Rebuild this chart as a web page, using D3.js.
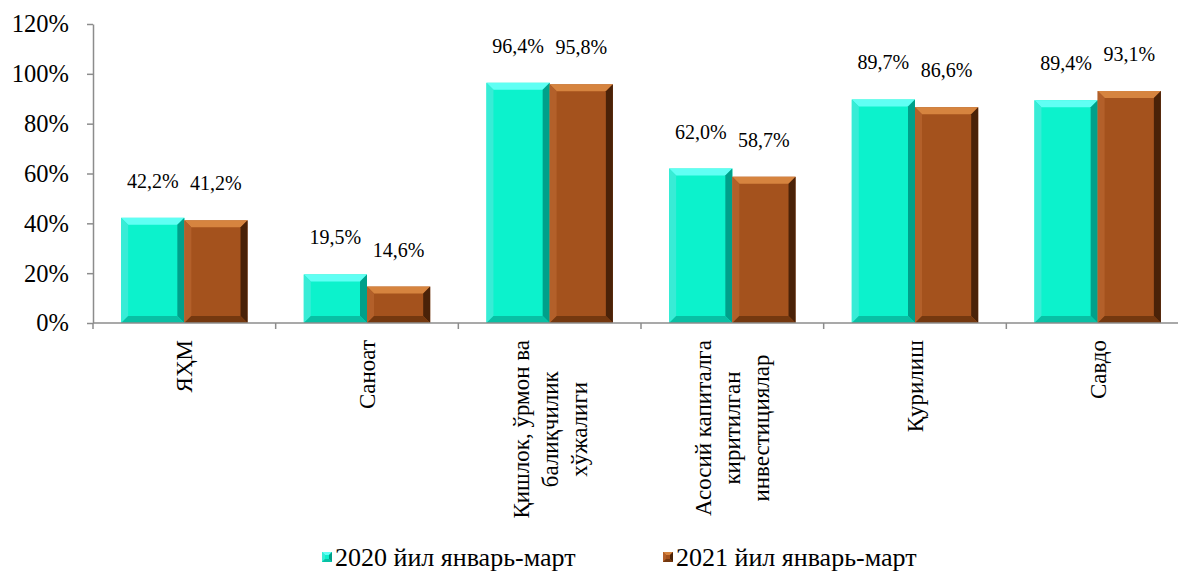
<!DOCTYPE html>
<html><head><meta charset="utf-8">
<script src="https://cdn.jsdelivr.net/npm/d3@7"></script>
<style>body{margin:0;background:#fff;overflow:hidden}svg{display:block}svg text{font-family:'Liberation Serif';fill:#000}</style>
</head><body><svg id="c" width="1178" height="572"></svg>
<script>
const categories = [
  ["ЯҲМ"],
  ["Саноат"],
  ["Қишлок, ўрмон ва", "балиқчилик", "хўжалиги"],
  ["Асосий капиталга", "киритилган", "инвестициялар"],
  ["Қурилиш"],
  ["Савдо"]
];
const seriesNames = ["2020 йил январь-март", "2021 йил январь-март"];
const values2020 = [42.2, 19.5, 96.4, 62.0, 89.7, 89.4];
const values2021 = [41.2, 14.6, 95.8, 58.7, 86.6, 93.1];
const yTicks = [0, 20, 40, 60, 80, 100, 120];

const FF = "Liberation Serif";
const svg = d3.select("#c");
const L = 93, R = 1189, T = 24, B = 323;
const idx = categories.map((d,i)=>i);
const x0 = d3.scaleBand().domain(idx).range([L, R]).padding(0);
const x1 = d3.scaleBand().domain([0,1]).range([0, x0.bandwidth()]).paddingInner(0).paddingOuter(0.445);
const y = d3.scaleLinear().domain([0, 120]).range([B, T]);

const pal = [
  {face:"#0cf2cc", top:"#60fff4", left:"#38ecd6", right:"#00a08a", bottom:"#08c0a4"},
  {face:"#a4521d", top:"#d6843f", left:"#b3602a", right:"#4a2208", bottom:"#74380f"}
];

function bevelBar(g, x, yTop, w, h, c, bv){
  const b = Math.min(bv, h/2, w/2);
  const x2 = x + w, y2 = yTop + h;
  g.append("rect").attr("x", x).attr("y", yTop).attr("width", w).attr("height", h).attr("fill", c.face);
  g.append("polygon").attr("points", [[x,yTop],[x2,yTop],[x2-b,yTop+b],[x+b,yTop+b]].join(" ")).attr("fill", c.top);
  g.append("polygon").attr("points", [[x,yTop],[x+b,yTop+b],[x+b,y2-b],[x,y2]].join(" ")).attr("fill", c.left);
  g.append("polygon").attr("points", [[x2,yTop],[x2,y2],[x2-b,y2-b],[x2-b,yTop+b]].join(" ")).attr("fill", c.right);
  g.append("polygon").attr("points", [[x,y2],[x+b,y2-b],[x2-b,y2-b],[x2,y2]].join(" ")).attr("fill", c.bottom);
}

const data = idx.map(i => [values2020[i], values2021[i]]);
const gBars = svg.append("g");
data.forEach((pair, i) => {
  pair.forEach((v, s) => {
    const bx = x0(i) + x1(s);
    const w = x1.bandwidth();
    const g = gBars.append("g");
    bevelBar(g, bx, y(v), w, y(0) - y(v), pal[s], 7);
    svg.append("text").attr("x", bx + w/2).attr("y", y(v) - 30)
      .attr("text-anchor", "middle").attr("font-size", 20).style("font-family", FF)
      .text(v.toFixed(1).replace(".", ",") + "%");
  });
});

// y axis
const yAxis = d3.axisLeft(y).tickValues(yTicks).tickSize(6).tickSizeOuter(0).tickFormat(d => d + "%");
const ga = svg.append("g").attr("transform", `translate(${L},0)`).call(yAxis);
ga.attr("font-family", null).attr("font-size", null);
ga.select(".domain").attr("stroke", "#8c8c8c").attr("stroke-width", 1.5);
ga.selectAll(".tick line").attr("stroke", "#8c8c8c").attr("stroke-width", 1.5);
ga.selectAll(".tick text").attr("font-size", 24.5).attr("x", -24).attr("fill", "#000")
  .style("font-family", FF);

// x axis
svg.append("line").attr("x1", L).attr("x2", R).attr("y1", B).attr("y2", B).attr("stroke", "#8c8c8c").attr("stroke-width", 1.5);
const bounds = idx.map(i => x0(i)).concat([R]);
svg.selectAll(".xt").data(bounds).enter().append("line")
  .attr("x1", d => d).attr("x2", d => d).attr("y1", B).attr("y2", B + 6)
  .attr("stroke", "#8c8c8c").attr("stroke-width", 1.5);

// category labels (rotated)
const lh = 29;
categories.forEach((lines, i) => {
  const cx = x0(i) + x0.bandwidth()/2;
  const g = svg.append("g");
  const t = g.append("text").attr("font-size", 23).attr("text-anchor", "middle").style("font-family", FF);
  const n = lines.length;
  lines.forEach((ln, k) => {
    t.append("tspan").attr("x", 0).attr("y", (k - (n-1)/2) * lh + 8).text(ln);
  });
  const maxLen = t.node().getBBox().width;
  g.attr("transform", `translate(${cx},${B + 17 + maxLen/2}) rotate(-90)`);
});

// legend
const legY = 557;
const legItems = [{x: 322, s: 0}, {x: 663, s: 1}];
legItems.forEach(it => {
  const g = svg.append("g");
  bevelBar(g, it.x, legY - 5, 10, 10, pal[it.s], 3);
  svg.append("text").attr("x", it.x + 13).attr("y", legY + 9).attr("font-size", 26).style("font-family", FF).text(seriesNames[it.s]);
});
</script></body></html>
